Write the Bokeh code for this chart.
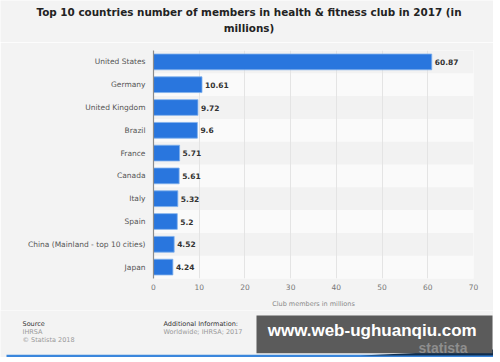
from bokeh.plotting import figure
from bokeh.layouts import column
from bokeh.models import (ColumnDataSource, FactorRange, Range1d, FixedTicker, Label,
                          LabelSet)
from bokeh.core.properties import value
from bokeh.embed import file_html
from bokeh.resources import INLINE

countries = ["United States", "Germany", "United Kingdom", "Brazil", "France",
             "Canada", "Italy", "Spain", "China (Mainland - top 10 cities)", "Japan"]
members = [60.87, 10.61, 9.72, 9.6, 5.71, 5.61, 5.32, 5.2, 4.52, 4.24]
x_ticks = [0, 10, 20, 30, 40, 50, 60, 70]

title_1 = "Top 10 countries number of members in health & fitness club in 2017 (in"
title_2 = "millions)"
x_label = "Club members in millions"

W = 493
BG = "#f3f3f3"


def no_align(f):
    try:
        f.frame_align = False
    except Exception:
        pass


def blank(y0, y1):
    f = figure(width=W, height=y1 - y0, output_backend="svg", toolbar_location=None,
               x_axis_type=None, y_axis_type=None,
               x_range=Range1d(0, W), y_range=Range1d(y1, y0),
               min_border=0)
    f.min_border_left = f.min_border_right = 0
    f.min_border_top = f.min_border_bottom = 0
    f.background_fill_color = BG
    f.border_fill_color = BG
    f.outline_line_color = None
    f.grid.visible = False
    no_align(f)
    return f


# ---------- title strip (page y 0..42)
pt = blank(0, 42)
for txt, yy in [(title_1, 11), (title_2, 27)]:
    pt.add_layout(Label(x=248.5, y=yy, text=txt, text_align="center",
                        text_baseline="middle", text_font="DejaVu Sans",
                        text_font_style="bold", text_font_size="10.4px",
                        text_color="#222222"))

# ---------- main chart (page y 42..310), frame x 153..473, y 50..278
p = figure(width=W, height=268, output_backend="svg", toolbar_location=None,
           y_range=FactorRange(factors=list(reversed(countries))),
           x_range=Range1d(0, 70),
           min_border_left=153, min_border_right=20, min_border_top=8,
           min_border_bottom=32)
no_align(p)
p.background_fill_color = "#fafafa"
p.border_fill_color = BG
p.outline_line_color = None

band_src = ColumnDataSource(dict(y=countries[0::2]))
br = p.hbar(y="y", left=0, right=70, height=1, source=band_src,
            fill_color="#f2f2f2", line_color=None)
br.level = "image"

src = ColumnDataSource(dict(y=countries, v=members, t=[str(m) for m in members]))
p.hbar(y="y", left=0, right="v", height=0.69, source=src,
       fill_color="#2976de", line_color="#7fb0ec", line_width=0.8)

p.add_layout(LabelSet(x="v", y="y", text="t", source=src, x_offset=3,
                      text_baseline="middle", text_font_size=value("7.5px"),
                      text_font_style=value("bold"), text_color=value("#333333"),
                      text_font=value("DejaVu Sans")))

p.xaxis.ticker = FixedTicker(ticks=x_ticks)
p.xaxis.axis_line_color = None
p.xaxis.major_tick_line_color = None
p.xaxis.minor_tick_line_color = None
p.xaxis.major_tick_out = 0
p.xaxis.major_label_standoff = 5
p.xaxis.major_label_text_font = "DejaVu Sans"
p.xaxis.major_label_text_font_size = "7.5px"
p.xaxis.major_label_text_color = "#777777"
p.xaxis.axis_label = x_label
p.xaxis.axis_label_text_font = "DejaVu Sans"
p.xaxis.axis_label_text_font_size = "6.5px"
p.xaxis.axis_label_text_font_style = "normal"
p.xaxis.axis_label_text_color = "#888888"
p.xaxis.axis_label_standoff = 7

p.yaxis.axis_line_color = "#8c8c8c"
p.yaxis.axis_line_width = 1.2
p.yaxis.major_tick_line_color = None
p.yaxis.minor_tick_line_color = None
p.yaxis.major_tick_out = 0
p.yaxis.major_label_standoff = 8
p.yaxis.major_label_text_font = "DejaVu Sans"
p.yaxis.major_label_text_font_size = "7.5px"
p.yaxis.major_label_text_color = "#555555"

p.xgrid.grid_line_color = "#e4e4e4"
p.ygrid.grid_line_color = None

# ---------- footer strip (page y 310..357)
pf = blank(310, 357)
footer = [("Source", 22, 323.5, "#333333"), ("IHRSA", 22, 331.5, "#999999"),
          ("\u00a9 Statista 2018", 22, 339.5, "#999999"),
          ("Additional Information:", 163, 323.5, "#333333"),
          ("Worldwide; IHRSA; 2017", 163, 331, "#999999")]
for txt, xx, yy, col in footer:
    pf.add_layout(Label(x=xx, y=yy, text=txt, text_baseline="middle",
                        text_font="DejaVu Sans", text_font_size="6.5px",
                        text_color=col))

pf.quad(left=6, right=493, top=354.3, bottom=357, fill_color="#3a86dc", line_color=None)
pf.patch(x=[360, 493, 493], y=[355, 349, 355], fill_color="#0f2d4d", line_color=None)
pf.quad(left=256, right=492, top=315, bottom=352.7, fill_color="#5b5b5b",
        line_color=None)
pf.add_layout(Label(x=467, y=347.5, text="statista", text_align="right",
                    text_baseline="middle", text_font="Liberation Sans",
                    text_font_style="bold", text_font_size="14px",
                    text_color="#8e8e8e"))
pf.add_layout(Label(x=371.7, y=330, text="www.web-ughuanqiu.com", text_align="center",
                    text_baseline="middle", text_font="Liberation Sans",
                    text_font_style="bold", text_font_size="17px",
                    text_color="#ffffff"))

layout = column(pt, p, pf, spacing=0)
open("out.html", "w").write(file_html(layout, INLINE))
